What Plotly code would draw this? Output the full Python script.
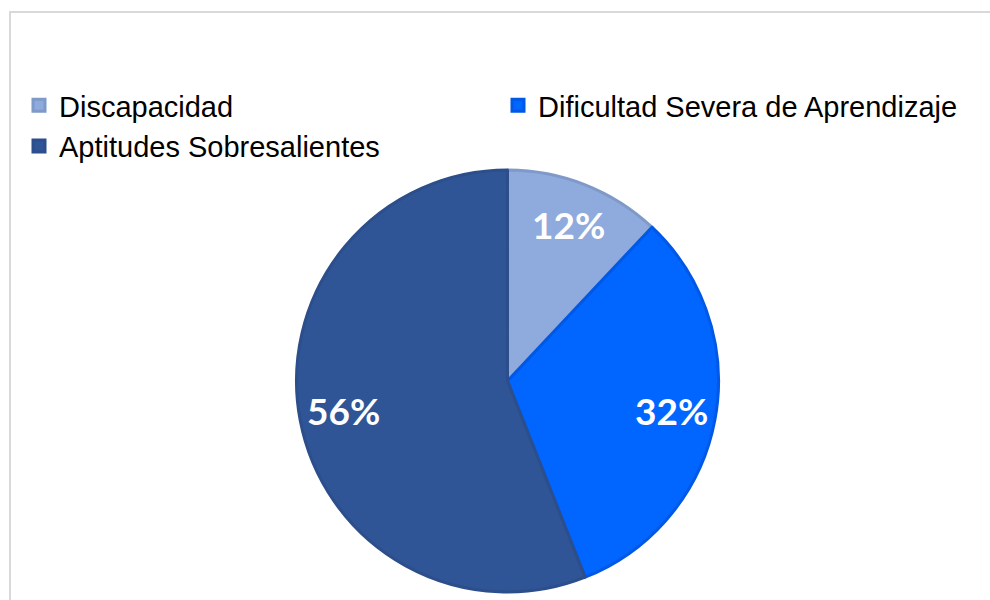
import math
import plotly.graph_objects as go

# Distribution of students by category
categories = ["Discapacidad", "Dificultad Severa de Aprendizaje", "Aptitudes Sobresalientes"]
percentages = [12, 32, 56]
slice_colors = ["#8FAADC", "#0066FF", "#2F5597"]
slice_edges = ["#7F99C8", "#0058E6", "#2C4E8A"]

W, H = 990, 600
CX, CY, R = 507.5, 381, 211     # pie centre and radius in pixels
LABEL_R = 0.79 * R               # radius at which the percentage labels sit

fig = go.Figure()
fig.add_trace(go.Pie(
    labels=categories,
    values=percentages,
    sort=False,
    direction="clockwise",
    rotation=0,
    marker=dict(colors=slice_colors, line=dict(color=slice_edges, width=3)),
    textinfo="none",
    hoverinfo="label+percent",
    domain=dict(x=[(CX - R) / W, (CX + R) / W],
                y=[(H - CY - R) / H, (H - CY + R) / H]),
))

# Percentage labels at the angular midpoint of each slice
annotations = []
total = sum(percentages)
cum = 0
for v in percentages:
    mid = (cum + v / 2) / total * 2 * math.pi
    cum += v
    px = CX + LABEL_R * math.sin(mid)
    py = CY - LABEL_R * math.cos(mid) - 2
    annotations.append(dict(
        x=px / W, y=1 - py / H, xref="paper", yref="paper",
        text=f"{v}%", showarrow=False, xanchor="center", yanchor="middle",
        font=dict(family="Lato", size=37, color="white", weight="bold"),
    ))

fig.update_layout(
    width=W, height=H,
    margin=dict(l=0, r=0, t=0, b=0),
    paper_bgcolor="white",
    plot_bgcolor="white",
    showlegend=True,
    legend=dict(
        orientation="h",
        x=19 / W, xanchor="left",
        y=1 - 80 / H, yanchor="top",
        entrywidth=434, entrywidthmode="pixels",
        font=dict(family="Liberation Sans, Arial", size=29, color="#000000"),
        bgcolor="rgba(0,0,0,0)",
        traceorder="normal",
    ),
    annotations=annotations,
    shapes=[dict(
        type="rect", xref="paper", yref="paper",
        x0=10 / W, x1=1.05, y0=-0.05, y1=1 - 12 / H,
        line=dict(color="#D9D9D9", width=2),
        layer="below",
    )],
)

fig.write_html("out.html")
